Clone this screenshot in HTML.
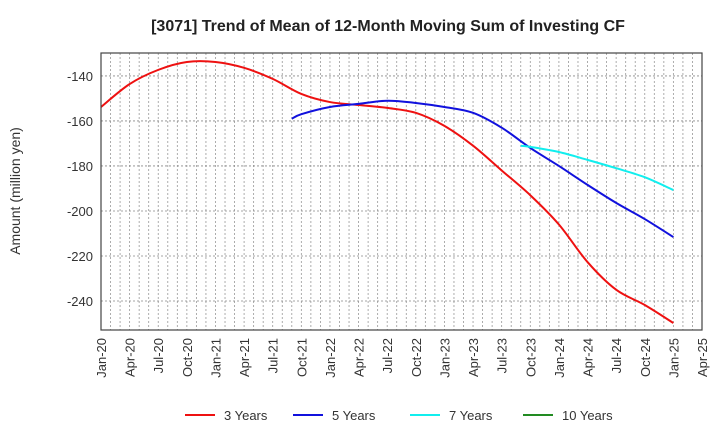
<!DOCTYPE html>
<html><head><meta charset="utf-8"><style>
body{margin:0;background:#fff;font-family:"Liberation Sans",sans-serif}
svg text{font-family:"Liberation Sans",sans-serif}
</style></head><body>
<svg id="c" width="720" height="440" xmlns="http://www.w3.org/2000/svg">
<text x="388" y="31" text-anchor="middle" font-size="16" font-weight="bold" fill="#222">[3071]  Trend of Mean of 12-Month Moving Sum of Investing CF</text>
<text transform="translate(20,191) rotate(-90)" text-anchor="middle" font-size="14" fill="#333">Amount (million yen)</text>
<g id="grid"></g><g id="series"></g><g id="axes"></g><g id="legend"></g>
</svg>
<script>
const xLabels=["Jan-20","Apr-20","Jul-20","Oct-20","Jan-21","Apr-21","Jul-21","Oct-21","Jan-22","Apr-22","Jul-22","Oct-22","Jan-23","Apr-23","Jul-23","Oct-23","Jan-24","Apr-24","Jul-24","Oct-24","Jan-25","Apr-25"];
const yTicks=[-140,-160,-180,-200,-220,-240];
const s3Months=[0,3,6,9,12,15,18,21,24,27,30,33,36,39,42,45,48,51,54,57,60];
const s3Values=[-153.8,-143.6,-137.3,-133.8,-133.8,-136.4,-141.3,-148,-151.6,-152.9,-154.2,-156.4,-162.2,-171,-182,-193,-206,-222.7,-235,-241.8,-249.8];
const s5Months=[20,21,24,27,30,33,36,39,42,45,48,51,54,57,60];
const s5Values=[-159,-157,-153.8,-152.4,-151,-152,-153.8,-156.4,-163,-172,-180,-188.4,-196.4,-203.6,-211.6];
const s7Months=[44,45,48,51,54,57,60];
const s7Values=[-171,-171.5,-173.8,-177.3,-181,-185,-190.7];
const L=101,R=702,T=53,B=330,yMin=-252.9,yMax=-129.8,mMax=63;
const X=m=>L+(R-L)*m/mMax, Y=v=>T+(yMax-v)/(yMax-yMin)*(B-T);
const NS="http://www.w3.org/2000/svg";
function mk(t,a,p){const e=document.createElementNS(NS,t);for(const k in a)e.setAttribute(k,a[k]);p.appendChild(e);return e;}
const grid=document.getElementById('grid'),axes=document.getElementById('axes'),ser=document.getElementById('series'),leg=document.getElementById('legend');
for(let m=1;m<mMax;m++){const l=mk('line',{x1:X(m),x2:X(m),y1:T,y2:B,stroke:'#999','stroke-width':0.8,'stroke-dasharray':'2,2'},grid);

}
yTicks.forEach(v=>{const l=mk('line',{x1:L,x2:R,y1:Y(v),y2:Y(v),stroke:'#888','stroke-width':0.8,'stroke-dasharray':'2,2'},grid);


const t=mk('text',{x:L-8,y:Y(v)+5,'text-anchor':'end','font-size':13,fill:'#333'},axes);t.textContent=v;

});
xLabels.forEach((s,i)=>{const x=X(i*3);const t=mk('text',{transform:`translate(${x+5},${B+8}) rotate(-90)`,'text-anchor':'end','font-size':13,fill:'#333'},axes);t.textContent=s;

});
const fr=mk('rect',{x:L,y:T,width:R-L,height:B-T,fill:'none',stroke:'#444','stroke-width':1.2},axes);


function path(ms,vs){const p=ms.map((m,i)=>[X(m),Y(vs[i])]);let d=`M${p[0][0]},${p[0][1]}`;
for(let i=0;i<p.length-1;i++){const p0=p[i-1]||p[i],p1=p[i],p2=p[i+1],p3=p[i+2]||p2;
d+=` C${p1[0]+(p2[0]-p0[0])/6},${p1[1]+(p2[1]-p0[1])/6} ${p2[0]-(p3[0]-p1[0])/6},${p2[1]-(p3[1]-p1[1])/6} ${p2[0]},${p2[1]}`;}return d;}
const p3=mk('path',{d:path(s3Months,s3Values),fill:'none',stroke:'#ee1111','stroke-width':2},ser);


const p5=mk('path',{d:path(s5Months,s5Values),fill:'none',stroke:'#1111dd','stroke-width':2},ser);


const p7=mk('path',{d:path(s7Months,s7Values),fill:'none',stroke:'#11eeee','stroke-width':2},ser);


[["3 Years","#ee1111",185],["5 Years","#1111dd",293],["7 Years","#11eeee",410],["10 Years","#228B22",523]].forEach(([n,c,x])=>{
const g=mk('g',{},leg);


mk('line',{x1:x,x2:x+30,y1:415,y2:415,stroke:c,'stroke-width':2},g);
const t=mk('text',{x:x+39,y:420,'font-size':13,fill:'#333'},g);t.textContent=n;});
</script>
</body></html>
